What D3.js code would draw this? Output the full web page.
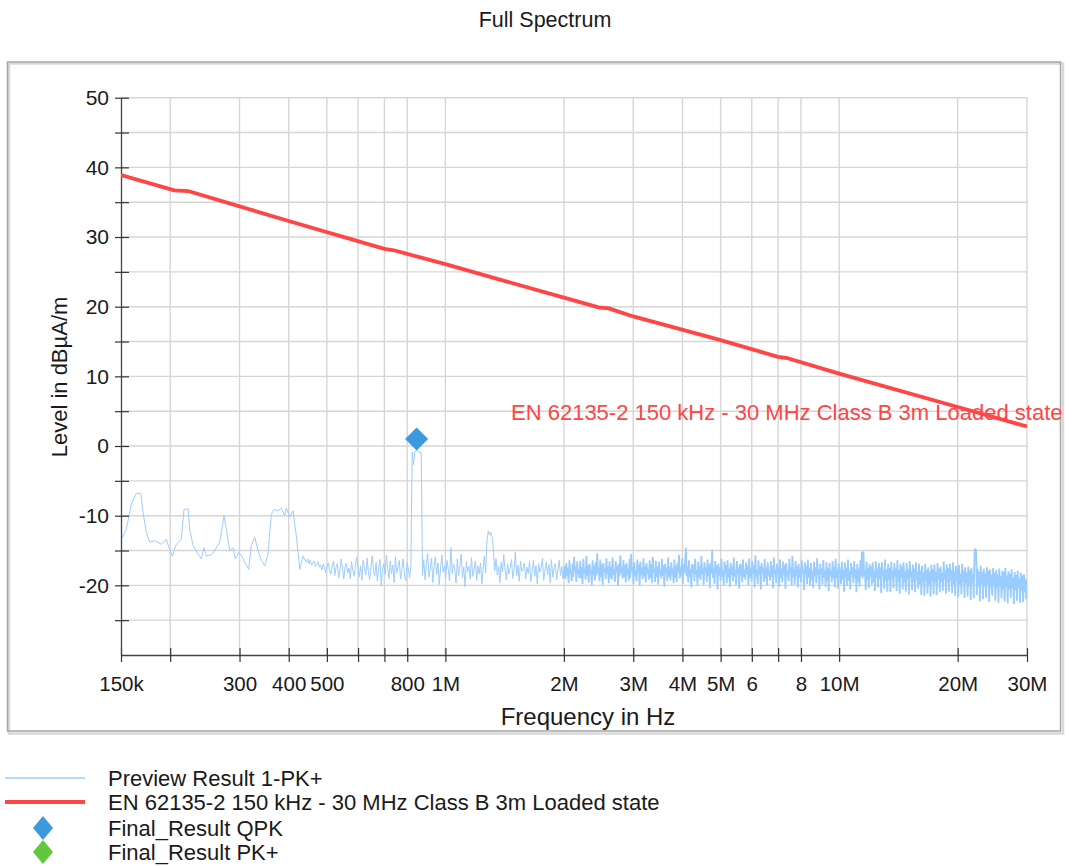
<!DOCTYPE html>
<html>
<head>
<meta charset="utf-8">
<script src="https://cdn.jsdelivr.net/npm/d3@7"></script>
<style>
  body { margin: 0; background: #ffffff; }
  svg { display: block; }
  text { font-family: "Liberation Sans", Arial, sans-serif; fill: #1a1a1a; }
</style>
</head>
<body>
<svg id="chart" width="1065" height="866"></svg>
<script>
// ---- Axis definitions ----
const xTickValues = [150e3, 200e3, 300e3, 400e3, 500e3, 600e3, 700e3, 800e3, 1e6,
                     2e6, 3e6, 4e6, 5e6, 6e6, 7e6, 8e6, 10e6, 20e6, 30e6];
const xTickLabels = ["150k", "", "300", "400", "500", "", "", "800", "1M",
                     "2M", "3M", "4M", "5M", "6", "", "8", "10M", "20M", "30M"];
const yTickValues = [-25, -20, -15, -10, -5, 0, 5, 10, 15, 20, 25, 30, 35, 40, 45, 50];

// ---- Limit line: EN 62135-2 150 kHz - 30 MHz Class B 3m Loaded state ----
const limitFreqHz = [150e3, 205e3, 222e3, 400e3, 700e3, 740e3, 1e6, 2e6, 2.45e6, 2.6e6,
                     3e6, 5e6, 7e6, 7.4e6, 10e6, 20e6, 30e6];
const limitLevel  = [38.9, 36.7, 36.6, 32.3, 28.3, 28.1, 26.1, 21.3, 19.9, 19.75,
                     18.6, 15.2, 12.8, 12.6, 10.4, 5.6, 2.8];

// ---- Preview Result 1-PK+ : low band, individual points ----
const lowFreqKHz = [150, 154.7, 159.3, 164.0, 168.4, 170.6, 173.9, 177.4, 182.7, 189.9,
                    195.5, 198.7, 202.5, 207.3, 213.4, 216.8, 222.0, 224.2, 228.6, 235.3,
                    239.9, 243.7, 247.1, 254.4, 259.5, 267.2, 274.0, 277.7, 283.3, 288.8,
                    292.7, 298.5, 304.3, 309.2, 316.5, 321.4, 327.9, 334.2, 340.7, 347.6,
                    354.3, 361.3, 367.0, 375.7, 383.0, 390.7, 394.4, 402.3, 410.2, 418.2,
                    426.6, 434.9, 443.4];
const lowLevel = [-13.4, -12.0, -8.4, -6.8, -6.8, -9.5, -12.4, -13.8, -13.6, -14.1,
                  -13.4, -14.6, -15.8, -14.1, -13.4, -9.1, -9.0, -12.0, -14.3, -15.5,
                  -16.2, -14.6, -15.8, -15.6, -15.0, -13.8, -10.0, -12.0, -15.0, -14.6,
                  -16.2, -15.3, -15.8, -16.7, -17.7, -14.3, -13.1, -15.0, -16.4, -17.2,
                  -15.5, -9.8, -9.1, -9.3, -8.9, -10.0, -8.9, -10.2, -9.3, -12.9,
                  -17.7, -15.8, -16.7];

// ---- Preview Result 1-PK+ : mid band sweep (log-spaced receiver steps) ----
const midStartHz = 447e3, midStopHz = 1.99e6;
const midLevels = [
  -16.2,-16.9,-16.4,-17.1,-16.8,-16.5,-17.3,-17.0,-16.6,-17.4,-17.1,-17.8,-16.9,-17.5,-18.2,-17.3,-16.8,-17.9,-18.4,-17.2,
  -16.5,-18.6,-17.4,-16.9,-18.9,-17.8,-16.2,-17.6,-19.1,-17.3,-16.8,-18.2,-17.5,-19.0,-16.6,-17.9,-18.7,-17.1,-15.9,-17.7,
  -18.8,-17.2,-19.3,-16.4,-17.6,-18.5,-16.1,-18.0,-19.2,-17.4,-15.8,-17.9,-18.6,-16.7,-19.4,-17.5,-16.3,-20.1,-17.8,-16.9,
  -18.4,-15.7,-17.6,-19.0,-16.5,-18.3,-17.1,-19.6,-15.9,-18.2,-17.3,-16.4,-19.1,-17.7,-16.2,-18.5,-19.3,-16.8,-17.6,-18.9,
  -17.2,-0.9,-2.7,-0.8,-0.7,-0.7,-0.8,-0.9,-0.9,
  -18.6,-16.3,-19.2,-17.0,-15.4,-18.8,-17.5,-16.1,-19.6,-17.3,-15.9,-18.4,-16.8,-19.9,-17.6,-15.6,-18.1,-17.2,
  -18.9,-16.4,-17.8,-19.4,-14.6,-18.3,-16.9,-17.5,-19.7,-16.2,-18.6,-17.1,-15.5,-18.9,-17.4,-20.2,-16.6,-18.0,
  -17.3,-19.1,-16.0,-18.7,-17.8,-16.5,-19.3,-17.2,-18.4,-16.8,-19.8,-17.6,-15.8,-18.2,
  -13.5,-12.2,-12.8,-12.4,-13.1,-14.9,-17.9,
  -16.2,-18.5,-17.3,-19.6,-16.7,-18.1,-15.6,-17.8,-19.2,-16.9,-18.4,-17.5,-16.3,-19.0,-17.7,-15.2,-18.6,-17.1,-19.4,-16.5,
  -18.0,-17.6,-16.8,-19.1,-17.4,-18.3,-16.6,-19.5,-17.9,-16.4,-18.7,-17.2,-19.8,-16.9,-18.1,-17.5,-16.1,-19.3,-17.8,-16.7,
  -18.5,-17.0,-19.6,-16.3,-18.8,-17.4,-16.9,-19.2,-17.7,-16.4,-18.6,-17.3,-19.0
];

// ---- Preview Result 1-PK+ : high band sweep ----
const highStartHz = 2.01e6, highStopHz = 30e6;
const highLevels = [
  -17.2,-19.1,-16.8,-18.6,-17.5,-19.7,-16.4,-18.2,-17.9,-19.4,-16.9,-18.8,-15.9,-18.0,-17.3,-19.5,-16.6,-18.4,-17.7,-19.0,
  -16.5,-18.9,-17.4,-19.8,-16.2,-18.3,-17.6,-19.2,-15.8,-18.7,-17.1,-19.6,-16.9,-18.1,-17.8,-20.0,-16.4,-18.5,-17.2,-19.3,
  -16.7,-18.6,-15.4,-18.2,-17.5,-19.4,-16.3,-18.8,-17.0,-19.9,-16.8,-18.0,-17.6,-19.1,-16.1,-18.4,-17.3,-19.7,-16.6,-18.9,
  -17.4,-19.2,-16.0,-18.5,-17.7,-19.5,-16.5,-18.1,-17.2,-20.1,-16.9,-18.7,-15.7,-18.3,-17.5,-19.0,-16.4,-18.8,-17.1,-19.6,
  -16.8,-18.4,-17.6,-19.3,-16.2,-18.9,-15.5,-18.0,-17.3,-19.8,-16.7,-18.6,-17.9,-19.4,-16.3,-18.2,-17.0,-20.0,-16.6,-18.5,
  -17.5,-19.1,-16.1,-18.7,-17.2,-19.6,-16.8,-18.3,-17.7,-19.2,-16.4,-18.9,-17.0,-19.7,-15.9,-18.1,-17.6,-19.5,-16.5,-18.8,
  -17.3,-19.9,-16.6,-18.4,-17.8,-19.0,-16.2,-18.6,-17.1,-20.2,-16.9,-18.2,-17.5,-19.4,-16.0,-18.8,-17.4,-19.3,-16.7,-18.5,
  -17.6,-19.7,-16.3,-18.9,-17.2,-19.5,-16.8,-18.1,-15.6,-19.0,-17.4,-18.6,-16.1,-19.8,-17.0,-18.3,-16.5,-14.6,-18.7,-17.3,
  -19.6,-16.4,-18.8,-17.7,-20.3,-16.9,-18.2,-17.1,-19.4,-16.2,-18.5,-17.8,-20.0,-16.6,-18.9,-17.3,-19.2,-15.8,-18.4,-17.5,
  -19.9,-16.7,-18.1,-17.4,-19.5,-16.3,-18.7,-17.0,-20.4,-16.8,-18.3,-14.9,-18.9,-17.6,-19.8,-16.5,-18.2,-17.2,-20.6,-16.9,
  -18.6,-17.5,-19.3,-16.2,-18.8,-17.9,-20.1,-16.6,-18.4,-17.1,-19.7,-16.4,-18.9,-17.6,-20.2,-16.8,-18.5,-17.3,-19.4,-16.0,
  -18.7,-17.8,-19.9,-16.5,-18.2,-17.4,-20.5,-16.9,-18.6,-17.0,-19.6,-16.3,-18.8,-17.7,-19.2,-16.7,-18.4,-17.2,-20.0,-16.1,
  -18.9,-17.5,-19.4,-16.6,-18.3,-17.1,-20.3,-15.7,-18.7,-17.8,-19.8,-16.4,-18.5,-17.3,-20.6,-16.8,-18.1,-17.6,-19.5,-16.2,
  -19.0,-17.4,-20.1,-16.7,-18.6,-17.9,-19.3,-16.5,-18.8,-17.2,-20.4,-16.0,-18.4,-17.7,-19.7,-16.9,-18.2,-17.5,-20.2,-16.3,
  -18.9,-17.6,-19.6,-16.6,-18.5,-17.1,-20.5,-16.8,-18.7,-17.9,-19.4,-16.2,-18.3,-17.4,-20.0,-15.8,-18.8,-17.7,-19.9,-16.5,
  -18.6,-17.3,-20.3,-16.9,-18.9,-17.6,-19.5,-16.4,-18.2,-17.8,-20.7,-16.7,-18.4,-17.2,-19.8,-16.3,-18.9,-17.5,-20.1,-16.8,
  -19.2,-17.9,-20.4,-16.6,-18.7,-17.4,-19.7,-16.1,-18.5,-17.7,-20.6,-16.9,-18.3,-17.6,-19.9,-16.4,-18.8,-17.8,-20.2,-16.7,
  -19.4,-17.5,-20.8,-16.8,-18.6,-17.9,-19.6,-16.5,-19.0,-17.3,-20.3,-16.2,-18.9,-17.7,-20.5,-16.9,-18.4,-17.6,-19.8,-16.6,
  -19.1,-17.8,-20.9,-16.7,-18.8,-17.5,-20.1,-16.3,-19.3,-17.9,-20.6,-16.8,-18.5,-17.4,-19.7,-16.5,-18.9,-17.7,-21.0,-16.9,
  -19.4,-17.6,-20.2,-16.4,-18.7,-15.2,-19.0,-15.1,-18.6,-17.8,-20.7,-16.6,-19.2,-17.5,-20.4,-16.9,-18.8,-17.3,-19.9,-16.7,
  -19.5,-17.9,-20.8,-16.5,-18.9,-17.6,-20.3,-16.8,-19.1,-17.4,-21.1,-16.7,-18.6,-17.8,-20.5,-16.3,-19.3,-17.7,-20.9,-16.9,
  -19.2,-17.5,-21.0,-16.6,-19.0,-17.9,-20.4,-16.8,-18.7,-17.6,-20.8,-16.4,-19.4,-17.8,-21.2,-16.9,-18.9,-17.3,-20.6,-16.7,
  -19.6,-18.0,-20.9,-16.8,-19.1,-17.7,-21.3,-16.5,-18.8,-17.9,-20.7,-17.0,-19.5,-17.6,-21.0,-16.7,-19.2,-18.1,-20.5,-16.9,
  -19.8,-17.9,-21.4,-17.2,-19.6,-18.2,-21.5,-16.9,-19.3,-17.8,-21.2,-17.4,-19.9,-18.0,-21.6,-17.1,-19.4,-17.7,-21.3,-17.0,
  -19.7,-18.1,-21.4,-16.8,-19.2,-17.6,-21.0,-17.3,-19.5,-18.2,-20.8,-16.6,-19.1,-17.9,-21.2,-17.0,-19.6,-17.5,-20.9,-16.9,
  -19.3,-17.8,-21.1,-16.7,-19.8,-18.0,-21.5,-17.2,-19.4,-17.6,-21.7,-17.1,-19.9,-18.3,-21.3,-16.9,-19.5,-17.9,-21.8,-17.4,
  -19.7,-18.2,-21.6,-17.3,-20.0,-17.8,-22.1,-17.5,-19.6,-18.4,-21.9,-14.9,-14.8,-14.9,-21.4,-17.6,-20.1,-18.0,-22.3,-17.2,
  -19.8,-18.1,-22.0,-17.6,-20.2,-18.3,-21.8,-17.4,-19.9,-17.9,-22.4,-17.7,-20.4,-18.5,-21.5,-17.5,-20.0,-18.2,-22.2,-17.8,
  -20.3,-18.4,-22.5,-17.6,-20.1,-18.7,-21.9,-17.9,-20.6,-18.1,-22.3,-17.5,-20.2,-18.6,-22.6,-18.0,-20.5,-18.3,-21.8,-17.7,
  -20.4,-18.8,-22.7,-18.1,-20.7,-18.5,-22.2,-17.9,-20.3,-19.0,-22.5,-18.2,-20.8,-18.6,-22.4,-18.4,-21.0,-19.1,-22.0,-19.3
];

// ---- Final results ----
const qpkFreqHz = [845e3];
const qpkLevel  = [1.0];
const pkFreqHz  = [];
const pkLevel   = [];

// ---- Legend entries ----
const legendLabels = ["Preview Result 1-PK+",
                      "EN 62135-2 150 kHz - 30 MHz Class B 3m Loaded state",
                      "Final_Result QPK",
                      "Final_Result PK+"];

// ---- Colours ----
const traceColor = "#9ecdfd";
const limitColor = "#ff4545";
const qpkColor = "#3c99de";
const pkColor = "#5fc83b";

const TICK_FONT = 20.5;
const LABEL_FONT = 22;
const svg = d3.select("#chart");

const x = d3.scaleLog().domain([150e3, 30e6]).range([121, 1027]);
const y = d3.scaleLinear().domain([-30, 50]).range([655, 97.7]);
const [px0, px1] = x.range();
const [py1, py0] = y.range();

// Build sweep frequency grid for a log-spaced segment
function sweep(start, stop, levels) {
  const n = levels.length;
  return levels.map((v, i) => ({ f: start * Math.pow(stop / start, i / (n - 1)), v }));
}
const lowPoints = lowFreqKHz.map((f, i) => ({ f: f * 1e3, v: lowLevel[i] }))
  .concat(sweep(midStartHz, midStopHz, midLevels));
const highPoints = [lowPoints[lowPoints.length - 1]]
  .concat(sweep(highStartHz, highStopHz, highLevels));
const limitPoints = limitFreqHz.map((f, i) => ({ f, v: limitLevel[i] }));

// ---- Title ----
svg.append("text").attr("x", 545).attr("y", 27).attr("text-anchor", "middle")
  .style("font-size", "21.5px").text("Full Spectrum");

// ---- Chart frame ----
svg.append("rect").attr("x", 9).attr("y", 63.5).attr("width", 1054).attr("height", 670)
  .attr("fill", "none").attr("stroke", "#d9d9d9").attr("stroke-width", 2.5);
svg.append("rect").attr("x", 7.5).attr("y", 62).attr("width", 1053).attr("height", 669)
  .attr("fill", "none").attr("stroke", "#a6a6a6").attr("stroke-width", 1.5);

// ---- Grid ----
const grid = svg.append("g").attr("stroke", "#d6d6d6").attr("stroke-width", 1.4);
grid.selectAll("line.h").data(yTickValues).join("line").attr("class", "h")
  .attr("x1", px0).attr("x2", px1).attr("y1", d => y(d)).attr("y2", d => y(d));
grid.selectAll("line.v").data(xTickValues.slice(1)).join("line").attr("class", "v")
  .attr("y1", py0).attr("y2", py1).attr("x1", d => x(d)).attr("x2", d => x(d));

// ---- Clip for plotted series ----
svg.append("clipPath").attr("id", "plotClip").append("rect")
  .attr("x", px0).attr("y", py0).attr("width", px1 - px0).attr("height", py1 - py0);

const line = d3.line().x(d => x(d.f)).y(d => y(d.v));

// Preview trace: sparse part thin, dense sweep heavier so it reads as a band
svg.append("path").datum(lowPoints).attr("clip-path", "url(#plotClip)")
  .attr("d", line).attr("fill", "none").attr("stroke", traceColor).attr("stroke-width", 1);
svg.append("path").datum(highPoints).attr("clip-path", "url(#plotClip)")
  .attr("d", line).attr("fill", "none").attr("stroke", "#9accfe").attr("stroke-width", 1.8);

// ---- Axes ----
const xAxis = d3.axisBottom(x).tickValues(xTickValues)
  .tickFormat((d, i) => xTickLabels[i]).tickSize(7).tickSizeOuter(0).tickPadding(14);
const gx = svg.append("g").attr("transform", `translate(0,${py1})`).call(xAxis);
gx.selectAll(".tick line").attr("y1", -7).attr("stroke", "#333").attr("stroke-width", 1.2);
gx.select(".domain").attr("stroke", "#444").attr("stroke-width", 1.3);
gx.selectAll(".tick text").style("font-size", TICK_FONT + "px").attr("fill", "#1a1a1a")
  .style("font-family", '"Liberation Sans", Arial, sans-serif');

const yAxis = d3.axisLeft(y).tickValues(yTickValues)
  .tickFormat(d => (d % 10 === 0 ? String(d) : "")).tickSize(6).tickSizeOuter(0).tickPadding(6);
const gy = svg.append("g").attr("transform", `translate(${px0},0)`).call(yAxis);
gy.selectAll(".tick line").attr("x1", 8).attr("stroke", "#333").attr("stroke-width", 1.2);
gy.select(".domain").attr("stroke", "#444").attr("stroke-width", 1.3);
gy.selectAll(".tick text").style("font-size", "21px").attr("fill", "#1a1a1a")
  .style("font-family", '"Liberation Sans", Arial, sans-serif');

// Axis titles
svg.append("text").attr("x", 588).attr("y", 725).attr("text-anchor", "middle")
  .style("font-size", "24px").text("Frequency in Hz");
svg.append("text").attr("transform", "translate(67,377) rotate(-90)").attr("text-anchor", "middle")
  .style("font-size", LABEL_FONT + "px").text("Level in dBµA/m");

// Limit line
svg.append("path").datum(limitPoints).attr("clip-path", "url(#plotClip)")
  .attr("d", line).attr("fill", "none").attr("stroke", limitColor)
  .attr("stroke-width", 3.8).attr("stroke-linejoin", "round");

// Limit label
svg.append("text").attr("x", 511).attr("y", 420).style("font-size", LABEL_FONT + "px")
  .style("fill", limitColor).text(legendLabels[1]);

// Final result markers
const diamond = (w, h) => `M0,${-h}L${w},0L0,${h}L${-w},0Z`;
svg.selectAll("path.qpk").data(qpkFreqHz).join("path").attr("class", "qpk")
  .attr("d", diamond(11.5, 11.5)).attr("fill", qpkColor)
  .attr("transform", (d, i) => `translate(${x(d)},${y(qpkLevel[i])})`);
svg.selectAll("path.pk").data(pkFreqHz).join("path").attr("class", "pk")
  .attr("d", diamond(11.5, 11.5)).attr("fill", pkColor)
  .attr("transform", (d, i) => `translate(${x(d)},${y(pkLevel[i])})`);

// ---- Legend ----
const legend = svg.append("g");
const rowY = [778, 802, 828, 852];
legend.append("line").attr("x1", 5).attr("x2", 85).attr("y1", rowY[0]).attr("y2", rowY[0])
  .attr("stroke", "#b6dafd").attr("stroke-width", 2);
legend.append("line").attr("x1", 5).attr("x2", 85).attr("y1", rowY[1]).attr("y2", rowY[1])
  .attr("stroke", limitColor).attr("stroke-width", 4);
legend.append("path").attr("d", diamond(10, 12)).attr("fill", qpkColor)
  .attr("transform", `translate(43,${rowY[2]})`);
legend.append("path").attr("d", diamond(10, 12)).attr("fill", pkColor)
  .attr("transform", `translate(43,${rowY[3]})`);
legend.selectAll("text").data(legendLabels).join("text")
  .attr("x", 108).attr("y", (d, i) => rowY[i]).attr("dy", "0.36em")
  .style("font-size", LABEL_FONT + "px").text(d => d);
</script>
</body>
</html>
